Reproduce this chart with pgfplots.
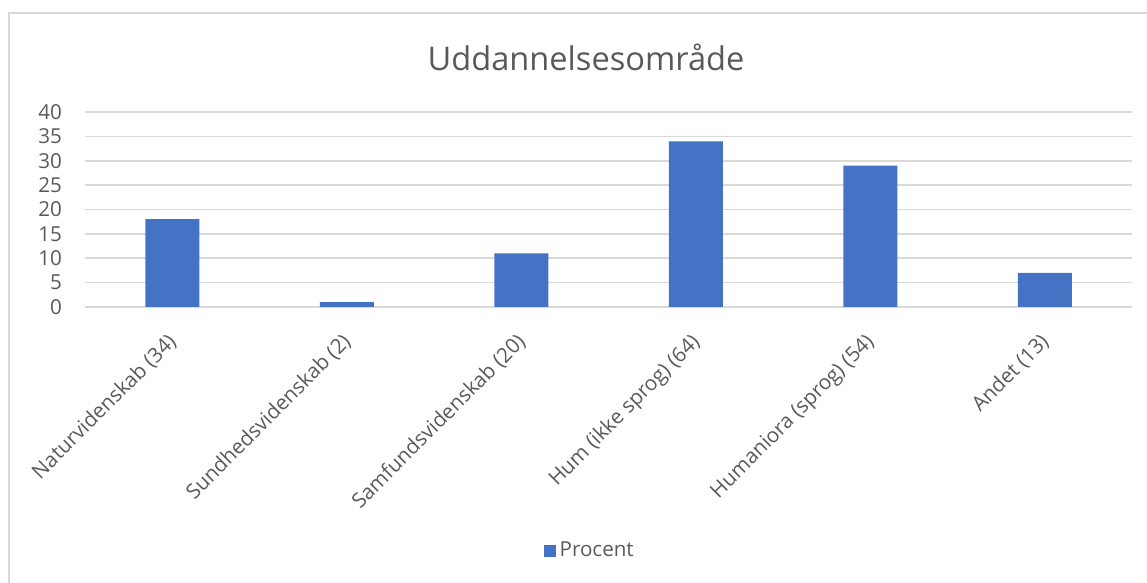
\documentclass[border=0pt]{standalone}
\usepackage{pgfplots}
\pgfplotsset{compat=1.18}
\usepackage{fontspec}
\setmainfont{Open Sans}
\definecolor{barblue}{HTML}{4472C4}
\definecolor{txtgray}{HTML}{595959}
\definecolor{gridgray}{HTML}{D9D9D9}
\begin{document}
\begin{tikzpicture}
\useasboundingbox (0,0) rectangle (573.5pt,291.5pt);
% chart frame (bottom edge is cut off in the reference)
\draw[gridgray, line width=0.6pt] (4.5pt,-2pt) -- (4.5pt,285pt) -- (575pt,285pt);
\node[txtgray, font=\fontsize{16.3}{19}\selectfont] at (293pt,263pt) {Uddannelsesområde};
\begin{axis}[
  at={(42.5pt,138pt)}, anchor=south west,
  scale only axis, width=523.5pt, height=97.5pt,
  ybar, bar width=27pt,
  xmin=-0.5, xmax=5.5, ymin=0, ymax=40,
  ytick={0,5,...,40},
  xtick=data,
  xticklabels={Naturvidenskab (34),Sundhedsvidenskab (2),Samfundsvidenskab (20),Hum (ikke sprog) (64),Humaniora (sprog) (54),Andet (13)},
  axis line style={draw=none},
  major tick length=0pt,
  ymajorgrids, grid style={gridgray, line width=0.75pt},
  /pgf/number format/assume math mode=true,
  tick label style={txtgray, font=\fontsize{10.3}{12}\selectfont},
  yticklabel style={xshift=-8pt},
  % shifts act in the rotated frame
  xticklabel style={rotate=45, anchor=north east, xshift=-7.5pt, yshift=-3.2pt},
  legend style={at={(0.483,-1.251)}, anchor=center, draw=none, fill=none,
    font=\fontsize{10.3}{12}\selectfont, text=txtgray},
  legend image code/.code={\fill[barblue] (0pt,-3pt) rectangle (6pt,3pt);},
]
\addplot[fill=barblue, draw=none] coordinates {(0,18) (1,1) (2,11) (3,34) (4,29) (5,7)};
\legend{Procent}
\end{axis}
\end{tikzpicture}
\end{document}
